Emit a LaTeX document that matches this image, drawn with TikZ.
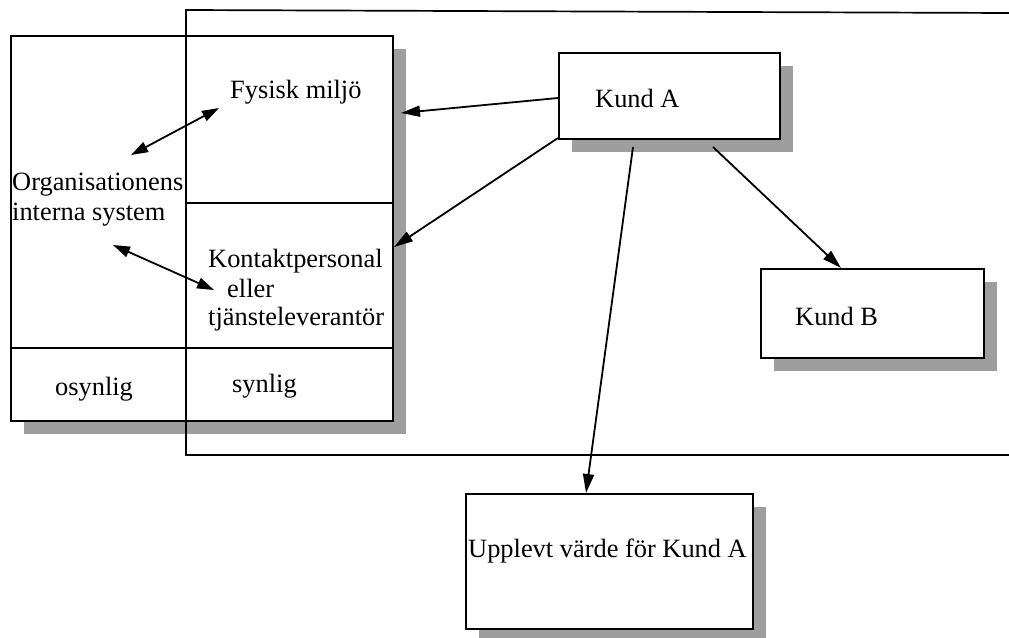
\documentclass[tikz,border=0pt]{standalone}
\usepackage{fontspec}
\setmainfont{Liberation Serif}
\usetikzlibrary{shadows,arrows.meta}
\begin{document}
\begin{tikzpicture}[x=1pt,y=-1pt,
  box/.style={draw, line width=1.8pt, fill=white, rectangle, inner sep=0pt,
    drop shadow={shadow xshift=13pt, shadow yshift=-13pt, fill=black!38, opacity=1}},
  txt/.style={anchor=base west, inner sep=0pt, font=\fontsize{26.4}{30}\selectfont, text=black},
  conn/.style={line width=1.8pt, -{Triangle[length=19pt,width=11pt]}},
  dconn/.style={line width=1.8pt, {Triangle[length=17pt,width=11pt]}-{Triangle[length=17pt,width=11pt]}},
  frame/.style={line width=1.7pt}]
\useasboundingbox (0,0) rectangle (1009,637);
% boxes
\node[box, minimum width=382pt, minimum height=385pt, anchor=north west] (orgbox) at (10,35) {};
\node[box, minimum width=221pt, minimum height=86pt, anchor=north west] (kundA) at (558,52) {};
\node[box, minimum width=223pt, minimum height=89pt, anchor=north west] (kundB) at (760,268) {};
\node[box, minimum width=287pt, minimum height=135pt, anchor=north west] (upplevt) at (465,493) {};
% big frame (open to the right)
\draw[frame] (1009,13) -- (186,10) -- (186,455) -- (1009,455);
% dividers in the left box
\draw[frame] (186,203) -- (orgbox.east |- 0,203);
\draw[frame] (orgbox.west |- 0,348) -- (orgbox.east |- 0,348);
% texts
\node[txt] (fys) at (230,98) {Fysisk miljö};
\node[txt] (org1) at (12,190) {Organisationens};
\node[txt] (org2) at (12,220) {interna system};
\node[txt] (kon1) at (208,267) {Kontaktpersonal};
\node[txt] (kon2) at (227,297) {eller};
\node[txt] (kon3) at (208,325) {tjänsteleverantör};
\node[txt] (osyn) at (55,395) {osynlig};
\node[txt] (syn) at (232,392) {synlig};
\node[txt] (kundAt) at (595,107) {Kund A};
\node[txt] (kundBt) at (795,325) {Kund B};
\node[txt] (upplevtt) at (468,557) {Upplevt värde för Kund A};
% connector end points
\coordinate (aS1) at (558,98);
\coordinate (aS2) at (558,138);
\coordinate (aS3) at (633,147);
\coordinate (aS4) at (713,147);
\coordinate (fysT) at (401,113);
\coordinate (konT) at (394,247);
\coordinate (uppT) at (586,493);
\coordinate (kbT) at (841,268);
\coordinate (d1a) at (219,108);
\coordinate (d1b) at (131,155);
\coordinate (d2a) at (113,245);
\coordinate (d2b) at (214,290);
% connectors
\draw[conn] (aS1) -- (fysT);
\draw[conn] (aS2) -- (konT);
\draw[conn] (aS3) -- (uppT);
\draw[conn] (aS4) -- (kbT);
\draw[dconn] (d1a) -- (d1b);
\draw[dconn] (d2a) -- (d2b);
\end{tikzpicture}
\end{document}
